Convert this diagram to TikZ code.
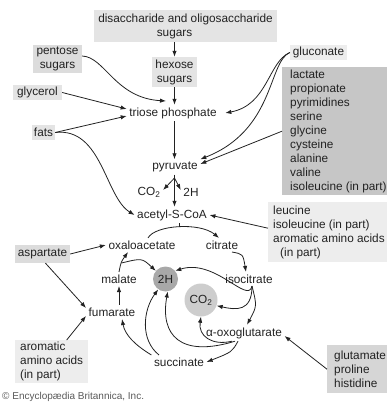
\documentclass[tikz,border=0pt]{standalone}
\usepackage{fontspec}
\setmainfont{Liberation Sans}
\usetikzlibrary{arrows.meta}
\definecolor{ink}{HTML}{222222}
\definecolor{boxA}{HTML}{E4E4E4}
\definecolor{boxB}{HTML}{DCDCDC}
\definecolor{boxC}{HTML}{C6C6C6}
\definecolor{boxD}{HTML}{EDEDED}
\definecolor{boxE}{HTML}{D6D6D6}
\definecolor{discH}{HTML}{A8A8A8}
\definecolor{discC}{HTML}{CDCDCD}
\begin{document}
\begin{tikzpicture}[x=1pt,y=-1pt,
  every node/.style={font=\fontsize{11.8}{14}\selectfont, text=ink},
  lbl/.style={inner sep=2.5pt},
  box/.style={inner sep=0pt, align=center},
  lbox/.style={align=left, anchor=north west, inner ysep=0pt},
  arr/.style={draw=ink, line width=0.8pt, -{Latex[length=6pt,width=4.4pt]}},
  ln/.style={draw=ink, line width=0.8pt}]
\useasboundingbox (0,0) rectangle (386,403);

% sources of carbon
\node[box, fill=boxA, minimum width=183pt, minimum height=32pt] (dis) at (185.5,26)
  {disaccharide and oligosaccharide\\\hspace*{-22pt}sugars};
\node[box, fill=boxB, minimum width=49pt, minimum height=28pt] (pen) at (57.5,59) {pentose\\sugars};
\node[box, fill=boxA, minimum width=45pt, minimum height=30pt] (hex) at (174.5,72) {hexose\\sugars};
\node[box, fill=boxA, minimum width=49pt, minimum height=15pt] (gly) at (37.5,92.5) {glycerol};
\node[box, fill=boxA, minimum width=23pt, minimum height=15pt] (fats) at (43.5,132.5) {fats};
\node[box, fill=boxD, minimum width=57pt, minimum height=15pt] (glc) at (318.5,52.5) {gluconate};
\node[lbox, fill=boxC, minimum height=128pt, inner xsep=8pt] (big) at (282,67)
  {lactate\\propionate\\pyrimidines\\serine\\glycine\\cysteine\\alanine\\valine\\isoleucine (in part)};
\node[lbox, fill=boxD, minimum height=60pt, inner xsep=5pt] (leu) at (268,202)
  {leucine\\isoleucine (in part)\\aromatic amino acids\\\hspace*{7pt}(in part)};
\node[box, fill=boxB, minimum width=55pt, minimum height=18pt] (asp) at (42.5,254) {aspartate};
\node[lbox, fill=boxD, minimum height=43pt, inner xsep=5pt] (aro) at (15,340)
  {aromatic\\amino acids\\(in part)};
\node[lbox, fill=boxE, minimum height=48pt, inner xsep=7pt] (glu) at (327,345)
  {glutamate\\proline\\histidine};

% intermediates
\node[lbl] (tri) at (173,113) {triose phosphate};
\node[lbl] (pyr) at (175,167) {pyruvate};
\node[lbl] (co2a) at (149,192) {CO\textsubscript{2}};
\node[lbl] (h2a) at (191,192) {2H};
\node[lbl] (acs) at (172,215) {acetyl-S-CoA};
\node[lbl] (oxa) at (142,245) {oxaloacetate};
\node[lbl] (cit) at (222,245) {citrate};
\node[lbl] (iso) at (249,279) {isocitrate};
\node[lbl] (mal) at (119,279) {malate};
\node[lbl] (fum) at (112,312) {fumarate};
\node[lbl] (oxo) at (244,333) {α-oxoglutarate};
\node[lbl] (suc) at (179,362) {succinate};
\node[circle, fill=discH, minimum size=25pt, inner sep=0pt] (h2c) at (165.5,279) {2H};
\node[circle, fill=discC, minimum size=33pt, inner sep=0pt] (co2c) at (201,300) {CO\textsubscript{2}};

\node[anchor=west, inner sep=0pt, font=\fontsize{10}{11}\selectfont, text=black!65] (copy) at (2,397)
  {© Encyclopædia Britannica, Inc.};

% feeding pathways
\coordinate (trin) at (166,101);
\draw[arr] (dis.south -| hex.north) -- (hex.north);
\draw[arr] (hex.south) -- (hex.south |- tri.north);
\draw[arr] ([yshift=3pt]pen.east) .. controls (105,57) and (115,98) .. (trin);
\draw[arr] (gly.east) -- ([yshift=4pt]tri.west);
\draw[arr] (fats.east) -- ([yshift=-3pt]tri.west);
\draw[arr] (fats.east) .. controls (102,127) and (105,197) .. (acs.west);
\draw[arr] (glc.west) .. controls (268,62) and (268,105) .. ([xshift=6pt]tri.east);
\draw[arr] (glc.west) .. controls (268,62) and (275,130) .. (pyr.north east);
\draw[arr] (big.west) -- ([yshift=3pt]pyr.east);
\draw[arr] (hex.south |- tri.south) -- (hex.south |- pyr.north);
\draw[arr] (hex.south |- pyr.south) -- (hex.south |- acs.north);
\coordinate (br) at (174.5,178);
\draw[arr] (br) -- ([yshift=2pt]co2a.east);
\draw[arr] (br) -- ([yshift=2pt]h2a.west);
\draw[arr] ([yshift=4pt]leu.west) -- (acs.east);

% citric acid cycle
\draw[arr] ([xshift=6pt]oxa.north) .. controls (155,225) and (200,222) .. ([xshift=-3pt]cit.north)
  coordinate[pos=0.5] (join);
\draw[ln] (join) -- (join |- acs.south);
\draw[arr] ([xshift=10pt]cit.south) .. controls (243,254) .. ([xshift=-3pt]iso.north);
\draw[arr] ([xshift=3pt]iso.south) .. controls (257,306) .. ([xshift=3pt]oxo.north);
\draw[arr] ([xshift=3pt]iso.south) .. controls (252,312) and (236,310) .. (co2c.-20);
\draw[arr] ([xshift=3pt]iso.south) .. controls (248,305) and (215,258) .. (h2c.40);
\draw[arr] ([xshift=-12pt]oxo.south) .. controls (212,346) and (198,336) .. (co2c.south);
\draw[arr] ([xshift=-6pt]oxo.south) .. controls (232,352) .. (suc.east);
\draw[arr] ([xshift=-9pt]oxo.south) .. controls (180,358) and (160,335) .. (h2c.-80);
\draw[arr] ([xshift=-20pt]suc.north) .. controls (140,340) and (143,310) .. (h2c.-125);
\draw[arr] (suc.north west) .. controls (135,345) and (125,335) .. ([xshift=10pt]fum.south);
\draw[arr] (mal.south |- fum.north) -- (mal.south);
\coordinate (mb) at (121.5,263);
\draw[arr] (mal.north) .. controls (121,262) .. ([xshift=-14pt]oxa.south);
\draw[arr] (mb) .. controls (142,258) .. (h2c.140);
\draw[arr] (asp.east) -- (oxa.west);
\draw[arr] ([xshift=3pt]asp.south) -- ([yshift=4pt]fum.west);
\draw[arr] ([xshift=15pt]aro.north) -- ([yshift=-4pt]fum.west);
\draw[arr] (glu.west) -- ([yshift=-3pt]oxo.east);
\end{tikzpicture}
\end{document}
